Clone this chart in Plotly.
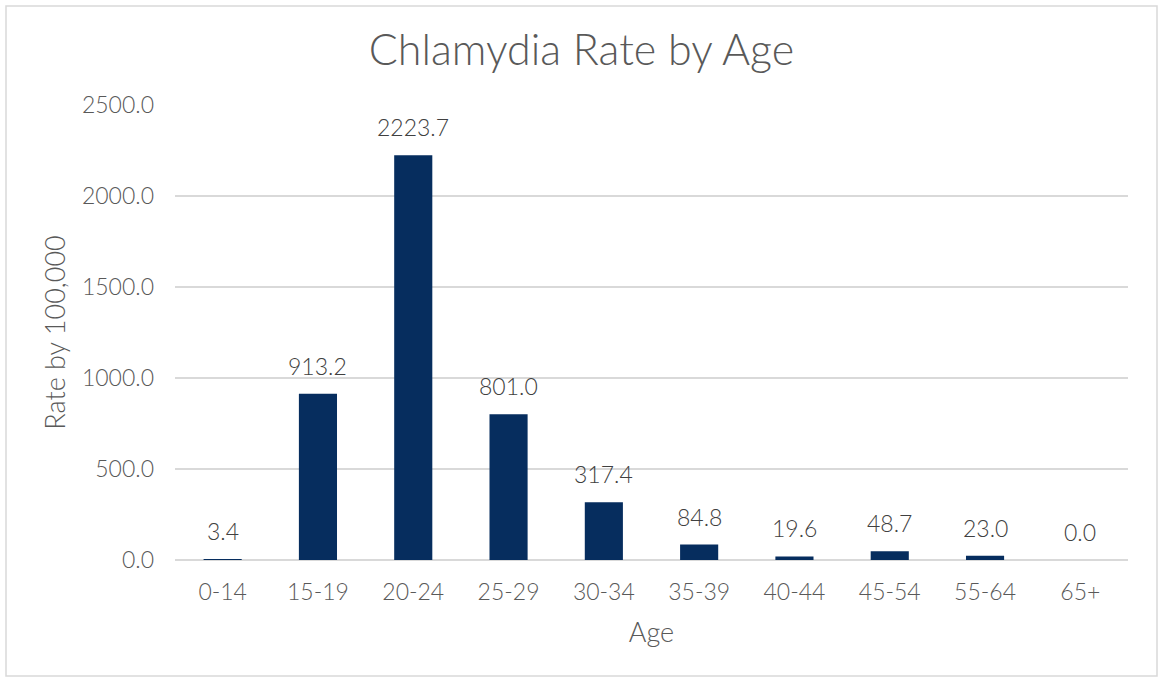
import plotly.graph_objects as go

ages = ["0-14", "15-19", "20-24", "25-29", "30-34", "35-39", "40-44", "45-54", "55-64", "65+"]
rates = [3.4, 913.2, 2223.7, 801.0, 317.4, 84.8, 19.6, 48.7, 23.0, 0.0]

W, H = 1163, 678
L, R, T, B = 175, 35, 105, 118
pw, ph = W - L - R, H - T - B

font_family = "Lato, 'Open Sans', sans-serif"
tick_col = "#595959"
label_col = "#404040"
WT = 300

fig = go.Figure(go.Bar(
    x=ages, y=rates,
    marker=dict(color="#062D5E", line=dict(width=0)),
    hoverinfo="x+y",
))

for a, v in zip(ages, rates):
    fig.add_annotation(x=a, y=v, text=f"{v:.1f}", showarrow=False,
                       yanchor="bottom", yshift=12,
                       font=dict(size=23, color=label_col, family=font_family, weight=WT))

fig.update_layout(
    width=W, height=H,
    margin=dict(l=L, r=R, t=T, b=B, autoexpand=False),
    paper_bgcolor="white", plot_bgcolor="white",
    font=dict(family=font_family, color=tick_col, weight=WT),
    bargap=0.6,
    showlegend=False,
    title=dict(text="Chlamydia Rate by Age", x=0.5, xanchor="center",
               xref="container",
               y=1 - 50 / H, yanchor="middle",
               font=dict(size=43, color=tick_col, family=font_family, weight=WT)),
    xaxis=dict(title=dict(text="Age", font=dict(size=27, color=tick_col, weight=WT), standoff=19),
               tickfont=dict(size=23, color=tick_col, weight=WT),
               showline=False, showgrid=False, ticks="", ticklabelstandoff=16),
    yaxis=dict(title=dict(text="Rate by 100,000", font=dict(size=27, color=tick_col, weight=WT), standoff=8),
               range=[0, 2500], dtick=500, tickformat=".1f",
               tickfont=dict(size=23, color=tick_col, weight=WT),
               showgrid=True, gridcolor="#D9D9D9", gridwidth=1.5,
               zeroline=True, zerolinecolor="#D9D9D9", zerolinewidth=1.5,
               ticks="", ticklabelstandoff=20),
    shapes=[dict(type="rect", xref="paper", yref="paper",
                 x0=(6 - L) / pw, x1=(1157 - L) / pw,
                 y0=(T + ph - 676) / ph, y1=(T + ph - 6) / ph,
                 line=dict(color="#D9D9D9", width=1.5), fillcolor="rgba(0,0,0,0)",
                 layer="below")],
)

fig.write_html("out.html", config={"displayModeBar": False},
               post_script="document.body.style.margin='0';document.body.style.overflow='hidden';")
